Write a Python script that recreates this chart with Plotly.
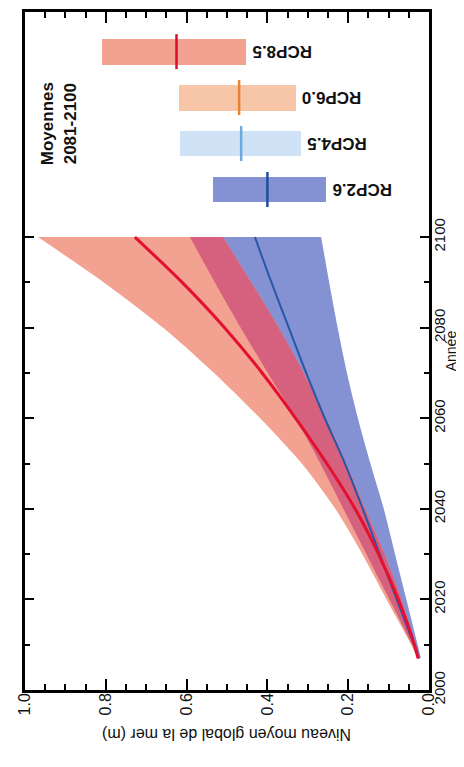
import plotly.graph_objects as go

# ---- time series (projected global mean sea level rise, m) ----
years = [2007, 2010, 2020, 2030, 2040, 2050, 2060, 2070, 2080, 2090, 2100]
rcp85_mid = [0.027, 0.036, 0.076, 0.125, 0.183, 0.253, 0.330, 0.413, 0.506, 0.611, 0.728]
rcp85_lo = [0.025, 0.034, 0.068, 0.11, 0.158, 0.205, 0.255, 0.31, 0.372, 0.44, 0.51]
rcp85_hi = [0.029, 0.044, 0.105, 0.165, 0.232, 0.315, 0.418, 0.532, 0.658, 0.805, 0.968]
rcp26_mid = [0.025, 0.037, 0.08, 0.122, 0.164, 0.208, 0.258, 0.304, 0.347, 0.39, 0.431]
rcp26_lo = [0.02, 0.028, 0.056, 0.084, 0.112, 0.145, 0.176, 0.203, 0.226, 0.247, 0.267]
rcp26_hi = [0.029, 0.042, 0.098, 0.155, 0.212, 0.269, 0.330, 0.399, 0.466, 0.530, 0.592]

# ---- 2081-2100 means ----
scenarios = ["RCP2.6", "RCP4.5", "RCP6.0", "RCP8.5"]
mean_2081_2100 = [0.40, 0.465, 0.47, 0.625]
low_2081_2100 = [0.255, 0.317, 0.33, 0.453]
high_2081_2100 = [0.535, 0.616, 0.62, 0.81]

# tick labels
x_ticks = [0.0, 0.2, 0.4, 0.6, 0.8, 1.0]
year_ticks = [2000, 2020, 2040, 2060, 2080, 2100]
year_minor = [2010, 2030, 2050, 2070, 2090]

# styles
C_SALMON = "#F3A191"
C_BLUE = "#8492D4"
C_OVER = "#D5617F"
C_RED = "#E3102F"
C_DBLUE = "#2857A8"
bar_fill = ["#8492D4", "#CFE2F6", "#F7C6A8", "#F3A191"]
bar_med = ["#1F4E9E", "#6FA9DE", "#E8822E", "#D8102F"]
FONT = "Liberation Sans, Arial, sans-serif"
SPL = dict(shape="spline", smoothing=0.8)

fig = go.Figure()


def band(lo, hi, color):
    fig.add_trace(go.Scatter(x=lo, y=years, mode="lines",
                             line=dict(width=0, **SPL), hoverinfo="skip",
                             showlegend=False))
    fig.add_trace(go.Scatter(x=hi, y=years, mode="lines", fill="tonextx",
                             fillcolor=color, line=dict(width=0, **SPL),
                             hoverinfo="skip", showlegend=False))


band(rcp26_lo, rcp26_hi, C_BLUE)
band(rcp85_lo, rcp85_hi, C_SALMON)
ov_lo = [max(a, b) for a, b in zip(rcp85_lo, rcp26_lo)]
ov_hi = [min(a, b) for a, b in zip(rcp85_hi, rcp26_hi)]
band(ov_lo, ov_hi, C_OVER)

fig.add_trace(go.Scatter(x=rcp26_mid, y=years, mode="lines",
                         line=dict(color=C_DBLUE, width=2, **SPL), showlegend=False))
fig.add_trace(go.Scatter(x=rcp85_mid, y=years, mode="lines",
                         line=dict(color=C_RED, width=3, **SPL), showlegend=False))

# legend bars (placed above 2100)
bar_y = [2110.5 + 10.15 * i for i in range(len(scenarios))]
fig.add_trace(go.Bar(
    orientation="h", y=bar_y,
    base=low_2081_2100,
    x=[h - l for h, l in zip(high_2081_2100, low_2081_2100)],
    width=5.7, marker=dict(color=bar_fill, line=dict(width=0)),
    showlegend=False))
fig.add_trace(go.Scatter(
    x=mean_2081_2100, y=bar_y, mode="markers",
    marker=dict(symbol="line-ns", size=25,
                line=dict(color=bar_med, width=2.5)),
    showlegend=False))

for name, lo, yy in zip(scenarios, low_2081_2100, bar_y):
    fig.add_annotation(x=lo, y=yy, text="<b>%s</b>" % name, showarrow=False,
                       textangle=180, xanchor="left", yanchor="middle",
                       xshift=4, font=dict(size=17, color="#111", family=FONT))

fig.add_annotation(x=0.915, y=2125, text="<b>Moyennes<br>2081-2100</b>",
                   showarrow=False, textangle=-90,
                   font=dict(size=17, color="#111", family=FONT))

fig.add_annotation(xref="paper", yref="paper", x=0.5, y=-0.082,
                   text="Niveau moyen global de la mer (m)", showarrow=False,
                   textangle=180, font=dict(size=16, color="#111", family=FONT))

fig.add_annotation(xref="paper", yref="paper", x=1.08, y=0.5,
                   text="Année", showarrow=False,
                   textangle=-90, font=dict(size=14, color="#111", family=FONT))

fig.update_layout(
    width=464, height=767,
    margin=dict(l=17, r=43, t=1, b=85),
    paper_bgcolor="white", plot_bgcolor="white",
    font=dict(family=FONT, size=15, color="#111"),
    bargap=0,
    xaxis=dict(range=[1.0, 0.0], tickvals=x_ticks, ticktext=["%.1f" % v for v in x_ticks],
               tickangle=-90, ticks="inside", ticklen=11, tickwidth=2, tickcolor="black",
               tickfont=dict(size=16), ticklabelstandoff=-6,
               minor=dict(dtick=0.05, ticks="inside", ticklen=6, tickwidth=2, tickcolor="black"),
               showline=True, linecolor="black", linewidth=2.5, mirror="ticks",
               showgrid=False, zeroline=False),
    yaxis=dict(range=[2000, 2149.7], side="right", tickvals=year_ticks,
               tickangle=-90, ticks="inside", ticklen=9, tickwidth=2, tickcolor="black",
               ticklabelstandoff=-5,
               minor=dict(tickvals=year_minor, ticks="inside", ticklen=5, tickwidth=2,
                          tickcolor="black"),
               showline=True, linecolor="black", linewidth=2.5, mirror="ticks",
               showgrid=False, zeroline=False),
)

fig.write_html("out.html")
